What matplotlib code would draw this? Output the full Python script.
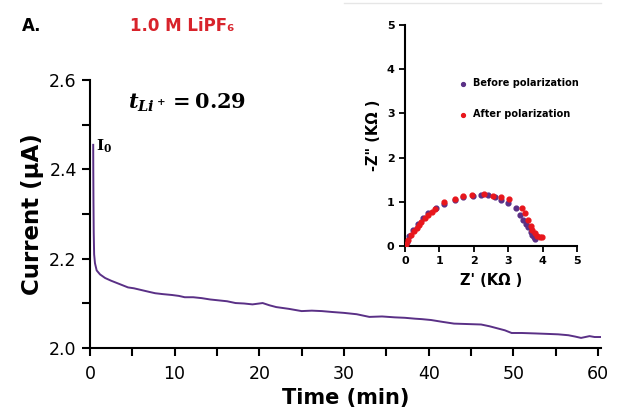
import matplotlib.pyplot as plt
from matplotlib.lines import Line2D

plt.rcParams['mathtext.fontset'] = 'custom'
plt.rcParams['mathtext.rm'] = 'DejaVu Serif:bold'
plt.rcParams['mathtext.it'] = 'DejaVu Serif:italic:bold'
plt.rcParams['mathtext.bf'] = 'DejaVu Serif:bold'

# chronoamperometry
time_min = [0.39, 0.40, 0.42, 0.45, 0.5, 0.6, 0.8, 1.2, 1.8, 2.5, 3.3, 4.5, 5.2, 6.1, 7.0, 7.7,
            8.6, 9.7, 10.5, 11.2, 12.2, 13.2, 14.2, 15.2, 16.2, 17.2, 18.2, 19.2, 20.4, 21.2,
            22.0, 23.5, 25.0, 26.2, 27.4, 28.6, 30.0, 31.5, 33.0, 34.5, 36.0, 37.2, 38.4,
            39.2, 40.3, 41.6, 43.0, 44.6, 46.2, 47.2, 48.0, 49.0, 49.8, 51.0, 52.6, 54.0,
            55.3, 56.5, 57.3, 58.0, 59.0, 59.6, 60.3]
current_uA = [2.455, 2.40, 2.33, 2.26, 2.21, 2.19, 2.174, 2.165, 2.157, 2.151, 2.145, 2.136,
              2.134, 2.130, 2.126, 2.123, 2.121, 2.119, 2.117, 2.114, 2.114, 2.112, 2.109,
              2.107, 2.105, 2.101, 2.100, 2.098, 2.101, 2.096, 2.092, 2.088, 2.083, 2.084,
              2.083, 2.081, 2.079, 2.076, 2.070, 2.071, 2.069, 2.068, 2.066, 2.065, 2.063,
              2.059, 2.055, 2.054, 2.053, 2.049, 2.045, 2.040, 2.034, 2.034, 2.033, 2.032,
              2.031, 2.029, 2.026, 2.023, 2.027, 2.025, 2.025]

# impedance (inset)
before_zr = [0.0, 0.05, 0.13, 0.24, 0.39, 0.53, 0.68, 0.9, 1.14, 1.45, 1.7, 1.98, 2.22, 2.42,
             2.62, 2.8, 3.0, 3.22, 3.34, 3.43, 3.52, 3.58, 3.65, 3.7, 3.75, 3.77]
before_zi = [0.01, 0.1, 0.23, 0.36, 0.5, 0.63, 0.74, 0.86, 0.94, 1.04, 1.1, 1.14, 1.15, 1.15,
             1.11, 1.04, 0.97, 0.85, 0.7, 0.59, 0.5, 0.44, 0.32, 0.25, 0.2, 0.15]
after_zr = [0.03, 0.1, 0.19, 0.27, 0.34, 0.41, 0.48, 0.58, 0.68, 0.78, 0.87, 1.14, 1.45, 1.69,
            1.96, 2.29, 2.56, 2.8, 3.02, 3.41, 3.48, 3.58, 3.65, 3.7, 3.77, 3.84, 3.92, 3.97]
after_zi = [0.05, 0.14, 0.25, 0.33, 0.4, 0.48, 0.55, 0.63, 0.7, 0.77, 0.83, 0.99, 1.06, 1.12,
            1.15, 1.17, 1.13, 1.1, 1.06, 0.85, 0.74, 0.59, 0.45, 0.36, 0.29, 0.23, 0.2, 0.2]

purple = '#5a3086'
red = '#e8161c'

fig = plt.figure(figsize=(6.2, 4.19), dpi=100)
ax = fig.add_axes([0.145, 0.169, 0.825, 0.640])
ax.plot(time_min, current_uA, color=purple, lw=1.4)
ax.set_xlim(0, 60.4)
ax.set_ylim(2.0, 2.6)
ax.set_xticks([0, 10, 20, 30, 40, 50, 60])
ax.set_xticks(range(5, 60, 10), minor=True)
ax.set_yticks([2.0, 2.2, 2.4, 2.6])
ax.set_yticks([2.1, 2.3, 2.5], minor=True)
ax.set_yticklabels(['2.0', '2.2', '2.4', '2.6'])
for s in ['top', 'right']:
    ax.spines[s].set_visible(False)
for s in ['left', 'bottom']:
    ax.spines[s].set_linewidth(1.5)
ax.tick_params(which='both', width=1.5, length=6, labelsize=12.5, direction='out')
ax.tick_params(axis='x', pad=6)
ax.set_xlabel('Time (min)', fontsize=15, fontweight='bold', labelpad=4)
ax.set_ylabel('Current (\u03bcA)', fontsize=16.5, fontweight='bold', labelpad=4)

ax.text(0.7, 2.452, r'$\mathrm{I_0}$', fontsize=11, va='center')
ax.text(4.5, 2.55, r'$t_{Li^+} = 0.29$', fontsize=15, va='center')

fig.text(0.035, 0.925, 'A.', fontsize=12, fontweight='bold')
fig.text(0.21, 0.925, '1.0 M LiPF\u2086', fontsize=12, fontweight='bold', color='#d8232b')
fig.add_artist(Line2D([0.555, 0.97], [0.993, 0.993], color='#e6e6e6', lw=1))

# inset
ins = fig.add_axes([0.653, 0.413, 0.278, 0.527])
ins.scatter(before_zr, before_zi, s=12, color=purple, label='Before polarization', zorder=2)
ins.scatter(after_zr, after_zi, s=12, color=red, label='After polarization', zorder=3)
ins.set_xlim(0, 5)
ins.set_ylim(0, 5)
ins.set_xticks(range(6))
ins.set_yticks(range(6))
for s in ['top', 'right']:
    ins.spines[s].set_visible(False)
for s in ['left', 'bottom']:
    ins.spines[s].set_linewidth(1.5)
ins.tick_params(width=1.3, length=4, labelsize=8)
for lab in ins.get_xticklabels() + ins.get_yticklabels():
    lab.set_fontweight('bold')
ins.set_xlabel("Z' (K\u03a9 )", fontsize=10.5, fontweight='bold', labelpad=5)
ins.set_ylabel('-Z" (K\u03a9 )', fontsize=10.5, fontweight='bold', labelpad=4)
ins.legend(loc='upper left', bbox_to_anchor=(0.23, 0.8), frameon=False,
           prop={'weight': 'bold', 'size': 7}, handletextpad=0.0, labelspacing=2.2,
           markerscale=0.8)

fig.savefig('out.png', dpi=100)
